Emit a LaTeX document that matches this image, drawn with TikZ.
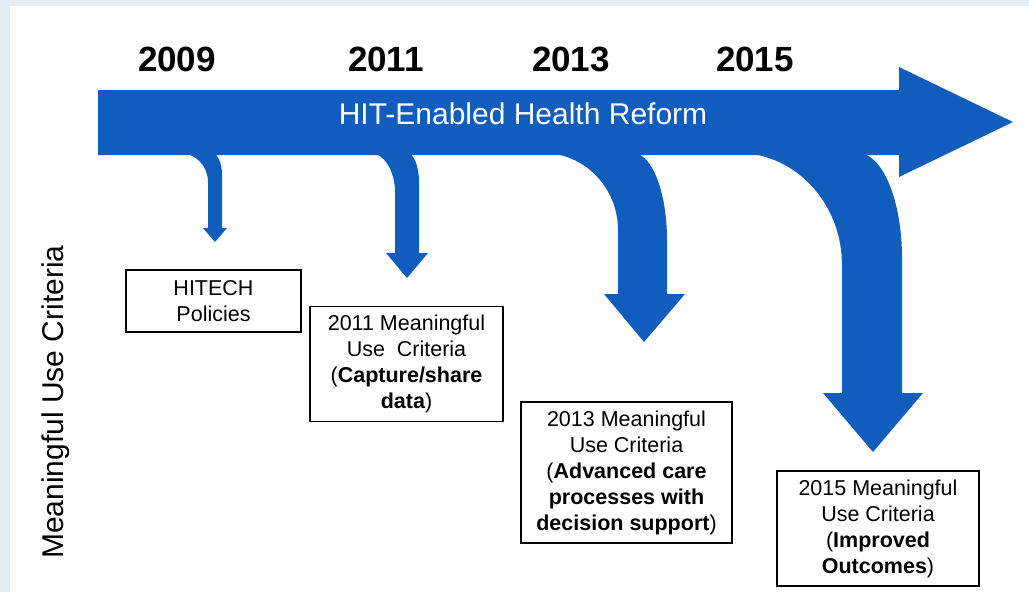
\documentclass[tikz,border=0pt]{standalone}
\usepackage{fontspec}
\setmainfont{Liberation Sans}
\definecolor{hitblue}{HTML}{115DBD}
\definecolor{framecol}{HTML}{E3EDF3}
\begin{document}
\begin{tikzpicture}[x=1pt,y=-1pt,
  yearlabel/.style={font=\bfseries\fontsize{35}{40}\selectfont, inner sep=0pt},
  critbox/.style={draw=black, line width=1.2pt, fill=white, align=center, inner sep=2pt,
    font=\fontsize{21.5}{26}\selectfont},
  arrowfill/.style={fill=hitblue}]
\useasboundingbox (0,0) rectangle (1029,592);
\fill[framecol] (0,0) rectangle (1029,592);
\fill[white] (10,6) rectangle (1029,592);

% main arrow
\fill[arrowfill] (98,90) -- (899,90) -- (899,67) -- (1013,122) -- (899,177) -- (899,155) -- (98,155) -- cycle;

% branch 2009
\fill[arrowfill] (180,153) .. controls (195.5,153) and (208,166) .. (208,182)
  -- (208,228) -- (203,228) -- (215,242) -- (227,228) -- (222,228) -- (222,175)
  .. controls (222,162.9) and (217.5,153) .. (212,153) -- cycle;
% branch 2011
\fill[arrowfill] (370,153) .. controls (383.8,153) and (395,170.5) .. (395,192)
  -- (395,253) -- (386,253) -- (407,278) -- (428,253) -- (419,253) -- (419,182)
  .. controls (419,166) and (413.6,153) .. (407,153) -- cycle;
% branch 2013
\fill[arrowfill] (543,153) .. controls (584.4,153) and (618,187.5) .. (618,230)
  -- (618,294) -- (604,294) -- (644,342) -- (685,294) -- (667,294) -- (667,240)
  .. controls (667,192) and (651.8,153) .. (633,153) -- cycle;
% branch 2015
\fill[arrowfill] (738,153) .. controls (795.4,153) and (842,203.2) .. (842,265)
  -- (842,393) -- (823,393) -- (873,452) -- (923,393) -- (902,393) -- (902,258)
  .. controls (902,200) and (882.3,153) .. (858,153) -- cycle;

\node[font=\fontsize{30}{34}\selectfont, text=white, inner sep=0pt] (title) at (523,114) {HIT-Enabled Health Reform};

\node[yearlabel] (y2009) at (177,59.5) {2009};
\node[yearlabel] (y2011) at (386,59.5) {2011};
\node[yearlabel] (y2013) at (571,59.5) {2013};
\node[yearlabel] (y2015) at (755,59.5) {2015};

\node[rotate=90, anchor=base, inner sep=0pt, font=\fontsize{30}{34}\selectfont] (side) at (63,402) {Meaningful Use Criteria};

\node[critbox, minimum width=175, minimum height=62] (hitech) at (213.5,301) {HITECH\\Policies};
\node[critbox, minimum width=193, minimum height=115] (c2011) at (406.5,364) {2011 Meaningful\\Use~ Criteria\\(\textbf{Capture/share}\\\textbf{data})};
\node[critbox, minimum width=211, minimum height=141] (c2013) at (626.5,472.5) {2013 Meaningful\\Use Criteria\\(\textbf{Advanced care}\\\textbf{processes with}\\\textbf{decision support})};
\node[critbox, minimum width=202, minimum height=115] (c2015) at (878,528.5) {2015 Meaningful\\Use Criteria\\(\textbf{Improved}\\\textbf{Outcomes})};
\end{tikzpicture}
\end{document}
